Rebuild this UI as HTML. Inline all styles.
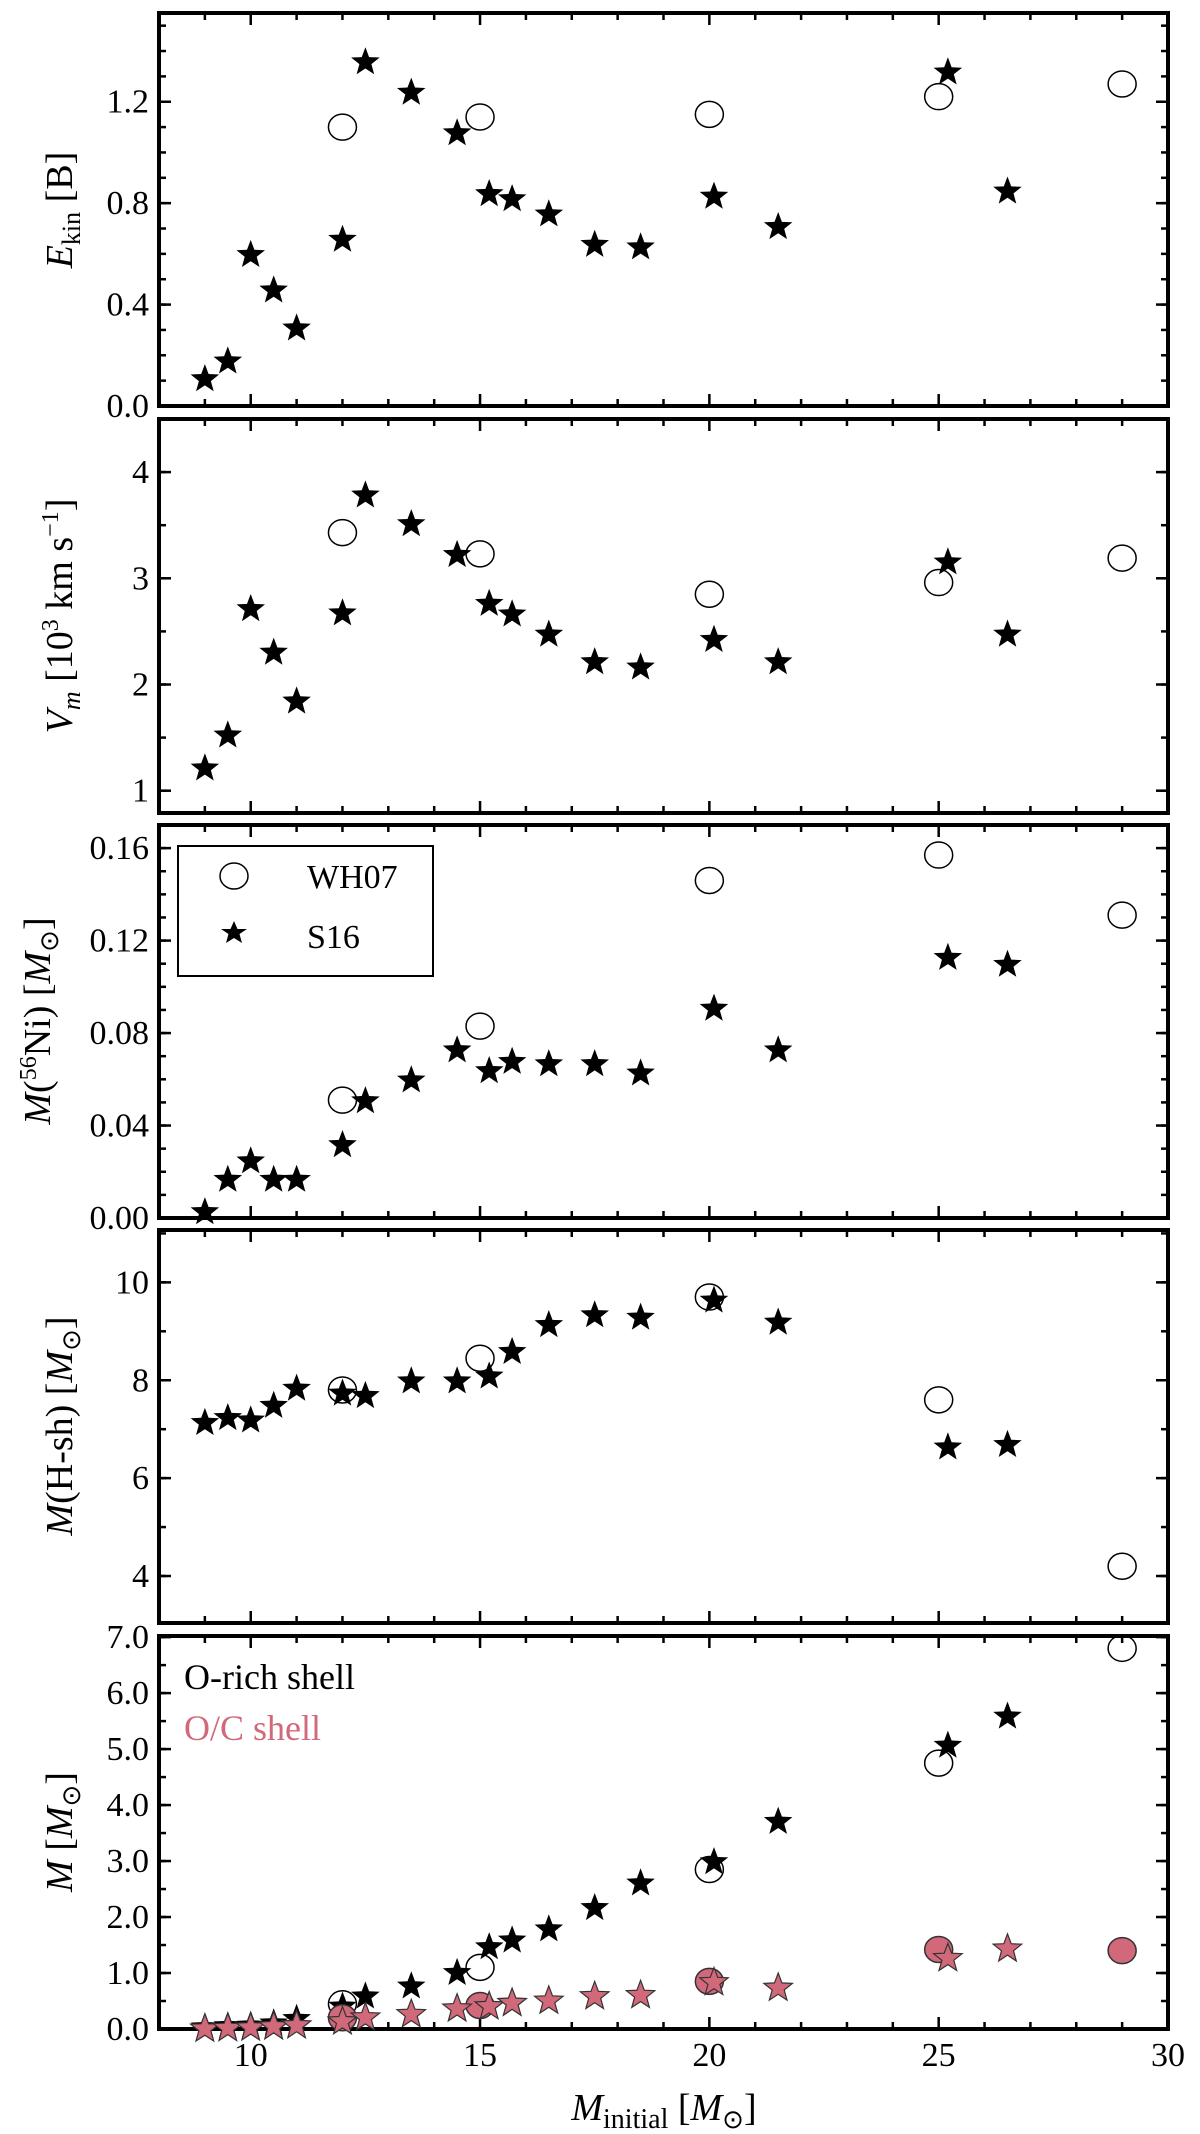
<!DOCTYPE html>
<html><head><meta charset="utf-8"><style>body{margin:0;background:#fff}svg{display:block;font-family:"Liberation Serif",serif}</style></head>
<body>
<svg id="c" width="1200" height="2134" viewBox="0 0 1200 2134" xmlns="http://www.w3.org/2000/svg"></svg>
<script>
const s16Mass=[9,9.5,10,10.5,11,12,12.5,13.5,14.5,15.2,15.7,16.5,17.5,18.5,20.1,21.5,25.2,26.5];
const wh07Mass=[12,15,20,25,29];
const ekinS16=[0.11,0.18,0.6,0.46,0.31,0.66,1.36,1.24,1.08,0.84,0.82,0.76,0.64,0.63,0.83,0.71,1.32,0.85];
const ekinWH07=[1.10,1.14,1.15,1.22,1.27];
const vmS16=[1.22,1.53,2.72,2.31,1.85,2.68,3.79,3.52,3.23,2.77,2.67,2.48,2.22,2.17,2.43,2.22,3.16,2.48];
const vmWH07=[3.43,3.23,2.85,2.96,3.19];
const niS16=[0.003,0.017,0.025,0.017,0.017,0.032,0.051,0.06,0.073,0.064,0.068,0.067,0.067,0.063,0.091,0.073,0.113,0.11];
const niWH07=[0.051,0.083,0.146,0.157,0.131];
const hshS16=[7.15,7.25,7.2,7.5,7.85,7.75,7.7,8.0,8.0,8.1,8.6,9.15,9.35,9.3,9.65,9.2,6.65,6.7];
const hshWH07=[7.8,8.45,9.7,7.6,4.2];
const orichS16=[0.05,0.07,0.08,0.12,0.2,0.42,0.6,0.78,1.02,1.48,1.6,1.8,2.18,2.62,3.0,3.72,5.08,5.6];
const orichWH07=[0.45,1.1,2.85,4.75,6.8];
const ocS16=[0.02,0.03,0.04,0.06,0.08,0.15,0.22,0.28,0.38,0.42,0.48,0.52,0.6,0.62,0.85,0.75,1.28,1.45];
const ocWH07=[0.2,0.42,0.85,1.42,1.4];
const xTicks=[10,15,20,25,30];

const NS="http://www.w3.org/2000/svg";
const svg=document.getElementById('c');
const X0=159,X1=1168,XMIN=8,XMAX=30;
const xs=v=>X0+(v-XMIN)/(XMAX-XMIN)*(X1-X0);
const PINK="#d2697a";
function mk(tag,attrs,parent){const e=document.createElementNS(NS,tag);for(const k in attrs)e.setAttribute(k,attrs[k]);(parent||svg).appendChild(e);return e;}
function star(cx,cy,r,fill,stroke,parent){
  let p=[];for(let i=0;i<10;i++){const a=-Math.PI/2+i*Math.PI/5;const rr=i%2?r*0.42:r;p.push((cx+rr*Math.cos(a)).toFixed(1)+','+(cy+rr*Math.sin(a)).toFixed(1));}
  return mk('polygon',{points:p.join(' '),fill:fill,stroke:stroke,'stroke-width':stroke=='none'?0:1.2},parent);
}
const panels=[
 {name:'ekin',top:13,bot:406,ymin:0,ymax:1.55,major:[0,0.4,0.8,1.2],minor:0.1,fmt:v=>v.toFixed(1)},
 {name:'vm',top:419,bot:813,ymin:0.79,ymax:4.5,major:[1,2,3,4],minor:0.5,fmt:v=>v.toFixed(0)},
 {name:'nickel',top:825,bot:1218,ymin:0,ymax:0.17,major:[0,0.04,0.08,0.12,0.16],minor:0.01,fmt:v=>v.toFixed(2)},
 {name:'hshell',top:1230,bot:1623,ymin:3.04,ymax:11.07,major:[4,6,8,10],minor:1,fmt:v=>v.toFixed(0)},
 {name:'oshell',top:1636,bot:2029,ymin:0,ymax:7.02,major:[0,1,2,3,4,5,6,7],minor:0.5,fmt:v=>v.toFixed(1)}
];
panels.forEach((P,pi)=>{
  const g=mk('g',{});
  
  
  const ys=v=>P.bot-(v-P.ymin)/(P.ymax-P.ymin)*(P.bot-P.top);
  P.ys=ys;P.g=g;
  for(let v=XMIN;v<=XMAX;v++){const x=xs(v);const L=(v%5==0)?12:7;
    mk('line',{x1:x,x2:x,y1:P.bot,y2:P.bot-L,stroke:'#000','stroke-width':2.5},g);
    mk('line',{x1:x,x2:x,y1:P.top,y2:P.top+L,stroke:'#000','stroke-width':2.5},g);}
  const start=Math.ceil(P.ymin/P.minor-1e-6);
  for(let k=start;k*P.minor<=P.ymax+1e-9;k++){const v=k*P.minor;const y=ys(v);
    mk('line',{x1:X0,x2:X0+7,y1:y,y2:y,stroke:'#000','stroke-width':2.5},g);
    mk('line',{x1:X1,x2:X1-7,y1:y,y2:y,stroke:'#000','stroke-width':2.5},g);}
  P.major.forEach(v=>{const y=ys(v);
    mk('line',{x1:X0,x2:X0+12,y1:y,y2:y,stroke:'#000','stroke-width':2.5},g);
    mk('line',{x1:X1,x2:X1-12,y1:y,y2:y,stroke:'#000','stroke-width':2.5},g);
    const t=mk('text',{x:X0-10,y:y+11,'text-anchor':'end','font-size':34},g);t.textContent=P.fmt(v);
    
    
  });
  const fr=mk('rect',{x:X0,y:P.top,width:X1-X0,height:P.bot-P.top,fill:'none',stroke:'#000','stroke-width':4},g);
  
  
});
xTicks.forEach(v=>{const t=mk('text',{x:xs(v),y:2066,'text-anchor':'middle','font-size':34});t.textContent=v;
  
  });

function plot(P,xsArr,ysArr,kind,color){
  xsArr.forEach((m,i)=>{const cx=xs(m),cy=P.ys(ysArr[i]);let e;
    if(kind=='star')e=star(cx,cy+1,15,color,color=='#000'?'none':'#333',P.g);
    else if(kind=='open')e=mk('ellipse',{cx:cx,cy:cy,rx:14,ry:13,fill:'none',stroke:'#000','stroke-width':1.5},P.g);
    else e=mk('ellipse',{cx:cx,cy:cy,rx:14,ry:13,fill:color,stroke:'#333','stroke-width':1.5},P.g);
    
    
  });
}
plot(panels[0],wh07Mass,ekinWH07,'open');plot(panels[0],s16Mass,ekinS16,'star','#000');
plot(panels[1],wh07Mass,vmWH07,'open');plot(panels[1],s16Mass,vmS16,'star','#000');
plot(panels[2],wh07Mass,niWH07,'open');plot(panels[2],s16Mass,niS16,'star','#000');
plot(panels[3],wh07Mass,hshWH07,'open');plot(panels[3],s16Mass,hshS16,'star','#000');
plot(panels[4],wh07Mass,orichWH07,'open');plot(panels[4],s16Mass,orichS16,'star','#000');
plot(panels[4],wh07Mass,ocWH07,'filled',PINK);plot(panels[4],s16Mass,ocS16,'star',PINK);
</script>
<div style="position:absolute;left:0;top:0;width:1200px;height:2134px;pointer-events:none">
<svg width="1200" height="2134" style="font-family:'Liberation Serif',serif">
  <g>
    <rect x="178" y="846" width="255" height="130" fill="#fff" stroke="#000" stroke-width="2"/>
    <ellipse cx="234" cy="876" rx="14" ry="13" fill="none" stroke="#000" stroke-width="1.5"/>
    <text x="307" y="888" font-size="34">WH07</text>
    <polygon points="234,921 237.5,929 247,929 239.5,934 242,943 234,938 226,943 228.5,934 221,929 230.5,929" fill="#000"/>
    <text x="307" y="948" font-size="34">S16</text>
  </g>
  <text x="184" y="1689" font-size="36">O-rich shell</text>
  <text x="184" y="1740" font-size="36" fill="#d2697a">O/C shell</text>
  <text transform="translate(72,210) rotate(-90)" text-anchor="middle" font-size="38"><tspan font-style="italic">E</tspan><tspan font-size="26" dy="8">kin</tspan><tspan dy="-8"> [B]</tspan></text>
  <text transform="translate(72,616) rotate(-90)" text-anchor="middle" font-size="38"><tspan font-style="italic">V</tspan><tspan font-style="italic" font-size="26" dy="8">m</tspan><tspan dy="-8"> [10</tspan><tspan font-size="24" dy="-14">3</tspan><tspan dy="14"> km s</tspan><tspan font-size="24" dy="-14">−1</tspan><tspan dy="14">]</tspan></text>
  <text transform="translate(50,1021) rotate(-90)" text-anchor="middle" font-size="38"><tspan font-style="italic">M</tspan>(<tspan font-size="24" dy="-14">56</tspan><tspan dy="14">Ni) [</tspan><tspan font-style="italic">M</tspan><tspan font-size="26" dy="8">⊙</tspan><tspan dy="-8">]</tspan></text>
  <text transform="translate(72,1426) rotate(-90)" text-anchor="middle" font-size="38"><tspan font-style="italic">M</tspan>(H-sh) [<tspan font-style="italic">M</tspan><tspan font-size="26" dy="8">⊙</tspan><tspan dy="-8">]</tspan></text>
  <text transform="translate(72,1832) rotate(-90)" text-anchor="middle" font-size="38"><tspan font-style="italic">M</tspan> [<tspan font-style="italic">M</tspan><tspan font-size="26" dy="8">⊙</tspan><tspan dy="-8">]</tspan></text>
  <text x="664" y="2120" text-anchor="middle" font-size="38"><tspan font-style="italic">M</tspan><tspan font-size="28" dy="8">initial</tspan><tspan dy="-8"> [</tspan><tspan font-style="italic">M</tspan><tspan font-size="26" dy="8">⊙</tspan><tspan dy="-8">]</tspan></text>
</svg>
</div>
</body></html>
